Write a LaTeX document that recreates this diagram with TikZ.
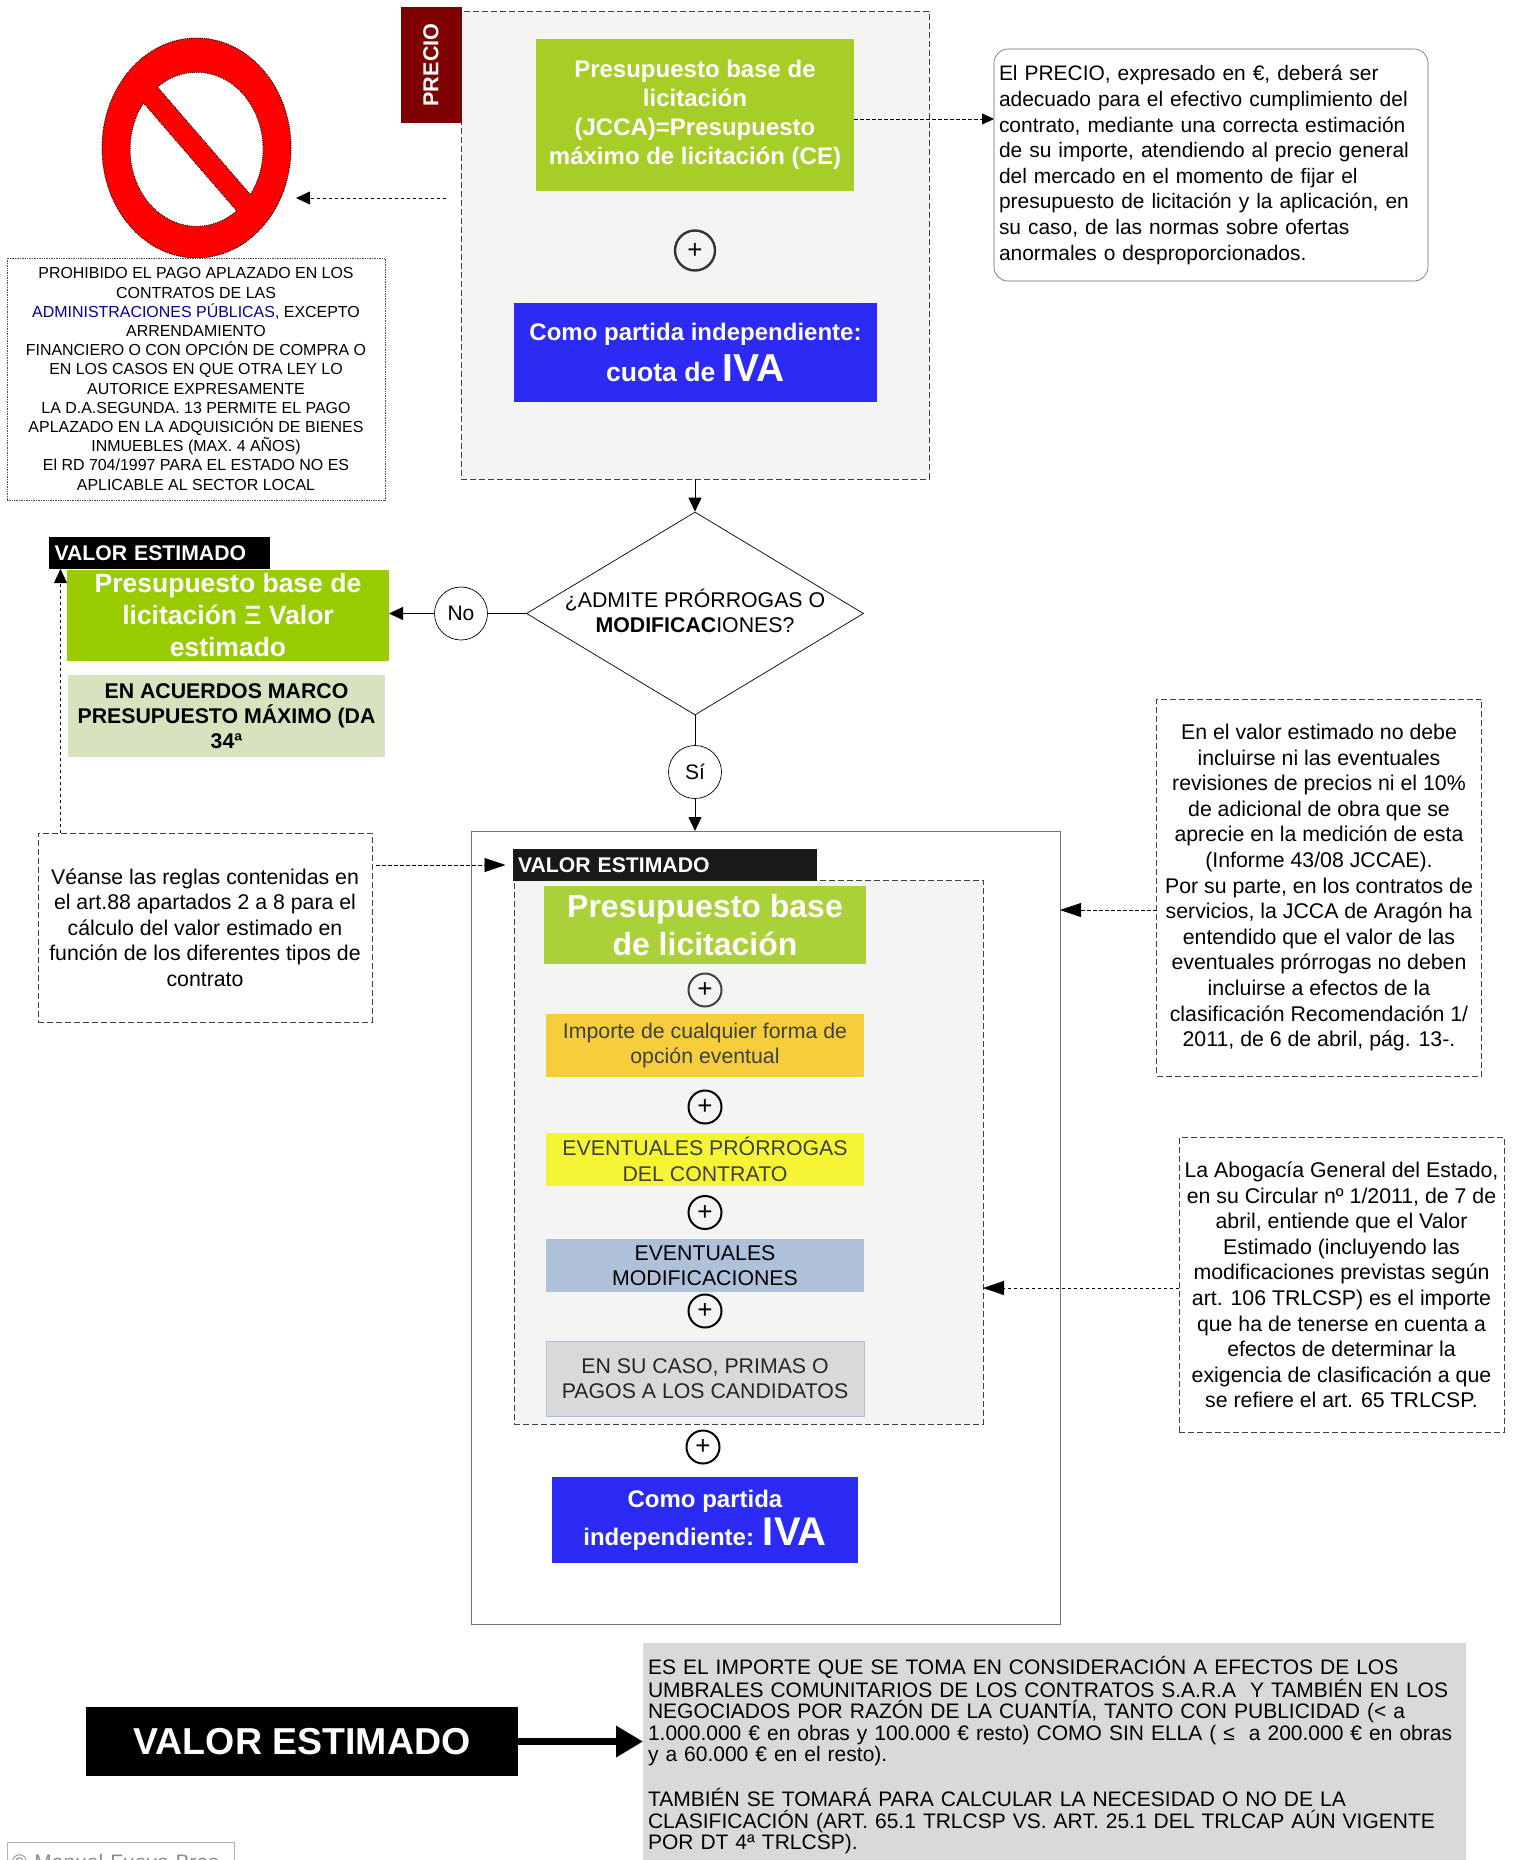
\documentclass[tikz,border=0pt]{standalone}
\usepackage{fontspec}
\setmainfont{Liberation Sans}
\usetikzlibrary{arrows.meta}
\usetikzlibrary{shapes.geometric}

\definecolor{pgreen}{HTML}{A6CE27}
\definecolor{vgreen}{HTML}{99CC00}
\definecolor{lgreen}{HTML}{D7E3BF}
\definecolor{igreen}{HTML}{AAD03A}
\definecolor{ivablue}{HTML}{2B2BF5}
\definecolor{panel}{HTML}{F4F4F4}
\definecolor{darkred}{HTML}{7F0000}
\definecolor{orangebox}{HTML}{F6CD3B}
\definecolor{yellowbox}{HTML}{F5F535}
\definecolor{bluebox}{HTML}{AFC1DA}
\definecolor{greybox}{HTML}{D9D9D9}

\tikzset{
  block/.style={inner sep=0pt, outer sep=0pt, align=center},
  dashbox/.style={block, draw=black!75, dash pattern=on 6pt off 3pt, line width=0.8pt},
  plusnode/.style={circle, draw=black, line width=2pt, minimum size=33pt, inner sep=0pt, font=\fontsize{26}{26}\selectfont},
  yesno/.style={circle, draw=black, line width=0.7pt, minimum size=53pt, inner sep=0pt, font=\fontsize{21}{25}\selectfont},
  link/.style={draw=black, line width=0.8pt, -{Triangle[length=14pt,width=13pt]}},
  dashlink/.style={link, dash pattern=on 3.5pt off 2.5pt},
  longlink/.style={dashlink, -{Triangle[length=21pt,width=14pt]}},
}

\begin{document}
\begin{tikzpicture}[x=1pt,y=-1pt]
  \useasboundingbox (0,0) rectangle (1516,1860);
  \def\notesize{\fontsize{21.3}{25.6}\selectfont}

  % precio
  \node[dashbox, fill=panel, minimum width=468pt, minimum height=468pt] (preciopanel) at (695,245) {};
  \node[block, fill=darkred, text=white, minimum width=61pt, minimum height=116pt, font=\fontsize{21.6}{25}\bfseries] (preciotag) at (431,65) {\rotatebox{90}{PRECIO}};
  \node[block, fill=pgreen, text=white, minimum width=318pt, minimum height=152pt, font=\fontsize{24}{29}\bfseries] (preciobase) at (695,115) {Presupuesto base de\\licitación\\(JCCA)=Presupuesto\\máximo de licitación (CE)};
  \node[plusnode, draw=black!80, minimum size=40pt, line width=2.4pt] (plusa) at (695,250.5) {+};
  \node[block, fill=ivablue, text=white, minimum width=363pt, minimum height=99pt, font=\fontsize{24}{29}\bfseries] (precioiva) at (695.5,352.5) {Como partida independiente:\\[8pt]{\fontsize{26.6}{38}\selectfont cuota de \fontsize{39}{38}\selectfont IVA}};
  \node[block, draw=black!60, line width=0.6pt, rounded corners=14pt, minimum width=434pt, minimum height=232pt, text width=424pt, align=left, font=\fontsize{20.95}{25.6}\selectfont] (precionote) at (1211,165) {El PRECIO, expresado en €, deberá ser\\adecuado para el efectivo cumplimiento del\\contrato, mediante una correcta estimación\\de su importe, atendiendo al precio general\\del mercado en el momento de fijar el\\presupuesto de licitación y la aplicación, en\\su caso, de las normas sobre ofertas\\anormales o desproporcionados.};
  \draw[dashlink, -{Triangle[length=12pt,width=11pt]}] (preciobase.east |- 0,119) -- (precionote.west |- 0,119);

  % prohibido
  \draw[fill=red, densely dotted, line width=0.9pt] (196.5,148) ellipse (94.5 and 110);
  \draw[fill=white, densely dotted, line width=0.9pt] (157.5,87) arc (-126:36:66.5 and 77) -- cycle;
  \draw[fill=white, densely dotted, line width=0.9pt] (143.5,103) arc (-143:-307:66.5 and 77) -- cycle;
  \node[block, draw=black!70, densely dotted, line width=0.7pt, minimum width=378pt, minimum height=242pt, fill=white, font=\fontsize{15.95}{19.2}\selectfont] (bannote) at (196,379) {PROHIBIDO EL PAGO APLAZADO EN LOS\\CONTRATOS DE LAS\\\textcolor{blue!60!black}{ADMINISTRACIONES PÚBLICAS,} EXCEPTO\\ARRENDAMIENTO\\FINANCIERO O CON OPCIÓN DE COMPRA O\\EN LOS CASOS EN QUE OTRA LEY LO\\AUTORICE EXPRESAMENTE\\LA D.A.SEGUNDA. 13 PERMITE EL PAGO\\APLAZADO EN LA ADQUISICIÓN DE BIENES\\INMUEBLES (MAX. 4 AÑOS)\\El RD 704/1997 PARA EL ESTADO NO ES\\APLICABLE AL SECTOR LOCAL};
  \coordinate (bantail) at (446,198);
  \coordinate (banhead) at (296,198);
  \draw[dashlink] (bantail) -- (banhead);

  % pregunta
  \node[diamond, draw=black, line width=0.7pt, aspect=1.66, inner sep=0pt, minimum width=337pt, minimum height=203pt] (pregunta) at (695,613.5) {};
  \node[block, font=\notesize] (preguntatext) at (695,611) {¿ADMITE PRÓRROGAS O\\\textbf{MODIFICAC}IONES?};
  \draw[link] (preciopanel.south) -- (pregunta.north);
  \node[yesno] (no) at (461,613.5) {No};
  \node[yesno] (si) at (695,772) {Sí};
  \node[block, fill=black, text=white, minimum width=221pt, minimum height=32pt, text width=209pt, align=left, font=\fontsize{21.2}{26}\bfseries] (valortag) at (159,553) {VALOR ESTIMADO};
  \node[block, fill=vgreen, text=white, minimum width=322pt, minimum height=91pt, font=\fontsize{26.5}{32}\bfseries] (valorbase) at (228,615.5) {Presupuesto base de\\licitación Ξ Valor\\estimado};
  \node[block, fill=lgreen, minimum width=317pt, minimum height=82pt, font=\fontsize{21.3}{25}\bfseries] (acuerdos) at (226.5,716) {EN ACUERDOS MARCO\\PRESUPUESTO MÁXIMO (DA\\34ª};
  \draw[draw=black, line width=0.8pt] (pregunta.west) -- (no.east);
  \draw[link] (no.west) -- (no.west -| valorbase.east);
  \draw[draw=black, line width=0.8pt] (pregunta.south) -- (si.north);

  % valor estimado
  \node[block, draw=black!55, line width=1pt, minimum width=589pt, minimum height=793pt] (valorpanel) at (765.5,1227.5) {};
  \draw[link] (si.south) -- (si.south |- valorpanel.north);
  \node[dashbox, fill=panel, minimum width=469pt, minimum height=544pt] (innerpanel) at (748.5,1152) {};
  \node[block, fill=black!90, text=white, minimum width=304pt, minimum height=31.5pt, text width=294pt, align=left, font=\fontsize{21.2}{26}\bfseries] (innertag) at (665,865) {VALOR ESTIMADO};
  \node[block, fill=igreen, text=white, minimum width=322pt, minimum height=77.5pt, font=\fontsize{32}{37.5}\bfseries] (innerbase) at (705,925) {Presupuesto base\\de licitación};
  \node[plusnode, draw=black!75] (plusb) at (705,990) {+};
  \node[block, fill=orangebox, text=black!75, minimum width=318pt, minimum height=63pt, font=\notesize] (opcion) at (705,1045.5) {Importe de cualquier forma de\\opción eventual};
  \node[plusnode] (plusc) at (705,1107) {+};
  \node[block, fill=yellowbox, text=black!75, minimum width=318pt, minimum height=52.5pt, font=\notesize] (prorrogas) at (705,1159.5) {EVENTUALES PRÓRROGAS\\DEL CONTRATO};
  \node[plusnode] (plusd) at (705,1212.5) {+};
  \node[block, fill=bluebox, minimum width=318pt, minimum height=52.5pt, font=\notesize] (modif) at (705,1265.5) {EVENTUALES\\MODIFICACIONES};
  \node[plusnode] (pluse) at (705,1311) {+};
  \node[block, fill=greybox, draw=bluebox, line width=0.6pt, text=black!85, minimum width=318pt, minimum height=75pt, font=\notesize] (primas) at (705,1378.5) {EN SU CASO, PRIMAS O\\PAGOS A LOS CANDIDATOS};
  \node[plusnode] (plusf) at (703,1447) {+};
  \node[block, fill=ivablue, text=white, minimum width=306.5pt, minimum height=86pt, font=\fontsize{24}{38}\bfseries] (valoriva) at (705,1520) {Como partida\\independiente: {\fontsize{40}{38}\selectfont IVA}};

  % notas
  \node[dashbox, minimum width=334pt, minimum height=189pt, font=\notesize] (reglas) at (205,927.5) {Véanse las reglas contenidas en\\el art.88 apartados 2 a 8 para el\\cálculo del valor estimado en\\función de los diferentes tipos de\\contrato};
  \coordinate (reglasup) at (60.5,833);
  \draw[dashlink] (reglasup) -- (reglasup |- valortag.south);
  \coordinate (reglastail) at (376,865);
  \coordinate (reglashead) at (505.5,865);
  \draw[longlink] (reglastail) -- (reglashead);
  \node[dashbox, minimum width=325pt, minimum height=377pt, font=\notesize] (prorrogasnote) at (1319,887.5) {En el valor estimado no debe\\incluirse ni las eventuales\\revisiones de precios ni el 10\%\\de adicional de obra que se\\aprecie en la medición de esta\\(Informe 43/08 JCCAE).\\Por su parte, en los contratos de\\servicios, la JCCA de Aragón ha\\entendido que el valor de las\\eventuales prórrogas no deben\\incluirse a efectos de la\\clasificación Recomendación 1/\\2011, de 6 de abril, pág. 13-.};
  \draw[longlink] (prorrogasnote.west |- 0,910) -- (valorpanel.east |- 0,910);
  \node[dashbox, minimum width=325pt, minimum height=294.5pt, font=\notesize] (abogacia) at (1341.5,1285) {La Abogacía General del Estado,\\en su Circular nº 1/2011, de 7 de\\abril, entiende que el Valor\\Estimado (incluyendo las\\modificaciones previstas según\\art. 106 TRLCSP) es el importe\\que ha de tenerse en cuenta a\\efectos de determinar la\\exigencia de clasificación a que\\se refiere el art. 65 TRLCSP.};
  \draw[longlink] (abogacia.west |- 0,1288) -- (innerpanel.east |- 0,1288);

  % definicion
  \node[block, fill=black, text=white, minimum width=432pt, minimum height=69pt, font=\fontsize{37.5}{44}\bfseries] (valormain) at (302,1741.5) {VALOR ESTIMADO};
  \node[block, fill=greybox, minimum width=823pt, minimum height=224pt, text width=813pt, align=left, font=\fontsize{21}{21.4}\selectfont] (valordef) at (1054.5,1755) {ES EL IMPORTE QUE SE TOMA EN CONSIDERACIÓN A EFECTOS DE LOS\\UMBRALES COMUNITARIOS DE LOS CONTRATOS S.A.R.A~ Y TAMBIÉN EN LOS\\NEGOCIADOS POR RAZÓN DE LA CUANTÍA, TANTO CON PUBLICIDAD (< a\\1.000.000 € en obras y 100.000 € resto) COMO SIN ELLA (~≤~ a 200.000 € en obras\\y a 60.000 € en el resto).\\[21.4pt]TAMBIÉN SE TOMARÁ PARA CALCULAR LA NECESIDAD O NO DE LA\\CLASIFICACIÓN (ART. 65.1 TRLCSP VS. ART. 25.1 DEL TRLCAP AÚN VIGENTE\\POR DT 4ª TRLCSP).};
  \draw[draw=black, line width=6.5pt, -{Triangle[length=27pt,width=30pt]}] (valormain.east) -- (valordef.west |- valormain.east);
  \node[block, draw=black!30, line width=1pt, minimum width=227pt, minimum height=40pt, text=black!45, text width=217pt, align=left, font=\fontsize{21}{25}\selectfont] (copyright) at (120.5,1862) {© Manuel Fuevo Bres};
\end{tikzpicture}
\end{document}
